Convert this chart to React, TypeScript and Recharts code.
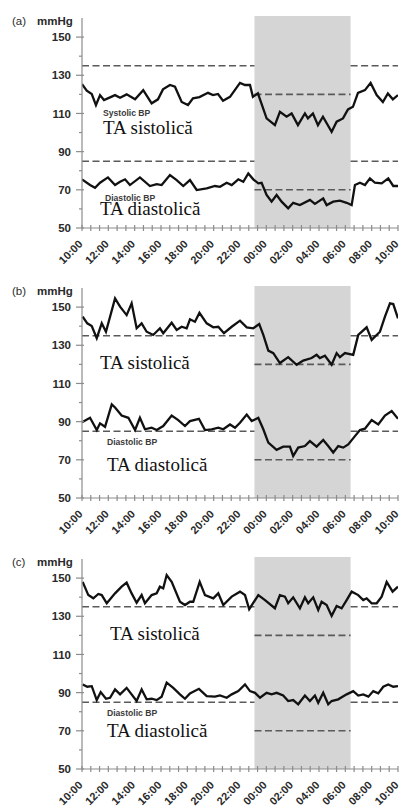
import React from 'react';
import { LineChart, Line, XAxis, YAxis, ReferenceArea, ReferenceLine } from 'recharts';

// time axis: hours elapsed since 10:00
const hourLabels = ['10:00', '12:00', '14:00', '16:00', '18:00', '20:00', '22:00', '00:00', '02:00', '04:00', '06:00', '08:00', '10:00'];
const majorHours = [0, 2, 4, 6, 8, 10, 12, 14, 16, 18, 20, 22, 24];
const yMajor = [50, 70, 90, 110, 130, 150];
const yTicks = [50, 60, 70, 80, 90, 100, 110, 120, 130, 140, 150, 160];
const nightStart = 13.1;
const nightEnd = 20.4;
const daySysLimit = 135;
const dayDiaLimit = 85;
const nightSysLimit = 120;
const nightDiaLimit = 70;

const aSys: [number, number][] = [
  [0, 125.4], [0.36, 121.9], [0.74, 120.2], [1.06, 114.4], [1.37, 119.6], [1.67, 117], [2.13, 118.4], [2.51, 119.6],
  [2.89, 118.2], [3.39, 120], [4.03, 117.4], [4.65, 122.2], [5.29, 115.3], [5.77, 117.4], [6.15, 122.6], [6.68, 124.9],
  [7.06, 124], [7.57, 116], [8.05, 114.4], [8.43, 117.9], [8.92, 118.6], [9.57, 120.8], [9.95, 119.6], [10.33, 120.2],
  [10.71, 116.7], [11.24, 118.7], [12.0, 126], [12.38, 124.9], [12.76, 124.9], [12.98, 118.7], [13.36, 120.5],
  [14.02, 107.4], [14.65, 103.9], [15.03, 110.9], [15.54, 108.3], [15.92, 110], [16.4, 103.9], [16.93, 110],
  [17.16, 107.4], [17.54, 110], [17.92, 103.9], [18.3, 108.3], [18.96, 100.4], [19.34, 105.7], [19.82, 107.4],
  [20.2, 112.1], [20.58, 113.5], [20.96, 120.8], [21.49, 122.2], [21.92, 126], [22.38, 119.6], [22.85, 116],
  [23.23, 120.5], [23.61, 117.4], [24, 119.6],
];
const aDia: [number, number][] = [
  [0, 75.5], [0.61, 72.5], [0.99, 71.1], [1.37, 73.7], [1.97, 76.5], [2.51, 72.5], [2.89, 74.2], [3.27, 75.5],
  [3.64, 72.5], [4.4, 76.5], [5.16, 72], [5.67, 73], [6.05, 72.5], [6.68, 77.7], [7.19, 75.1], [7.69, 72],
  [8.2, 75.1], [8.71, 69.9], [9.47, 70.8], [10.1, 72], [10.48, 71.6], [10.99, 73.7], [11.37, 72.5], [11.87, 75.5],
  [12.25, 74.2], [12.63, 78.6], [13.01, 75.5], [13.39, 73.4], [13.64, 73.7], [14.02, 67.3], [14.4, 63.8],
  [14.78, 67.3], [15.16, 63.8], [15.66, 60.3], [16.04, 63.2], [16.55, 62], [17.31, 64.7], [17.69, 62.6],
  [18.32, 65.5], [18.58, 62], [19.08, 63.8], [19.59, 64.3], [20.1, 63.2], [20.48, 62], [20.73, 72.5], [21.11, 73.7],
  [21.49, 72.5], [21.87, 76], [22.25, 73.7], [22.76, 73.4], [23.26, 76], [23.64, 72], [24, 72],
];
const bSys: [number, number][] = [
  [0.05, 145], [0.4, 141.5], [0.74, 140.1], [1.12, 133.7], [1.5, 141.5], [1.82, 137.1], [2.51, 154.5], [2.89, 150.2],
  [3.39, 145.8], [3.77, 152], [4.15, 138.9], [4.53, 141.5], [4.91, 137.1], [5.41, 135.4], [5.92, 138.9], [6.17, 136.3],
  [6.81, 141.8], [7.19, 138], [7.57, 139.7], [7.95, 138.9], [8.2, 143.6], [8.58, 142.3], [8.92, 147], [9.47, 141.5],
  [9.97, 139.4], [10.35, 139.7], [10.78, 136.3], [11.37, 139.7], [12, 142.9], [12.51, 139.4], [13.01, 138.9],
  [13.46, 141.1], [13.77, 135.4], [14.15, 127.2], [14.53, 125.9], [15.03, 120.7], [15.66, 123.8], [16.3, 119.8],
  [16.8, 122], [17.44, 123.3], [17.82, 125], [18.07, 123.3], [18.45, 124.5], [18.96, 119.8], [19.34, 125.9],
  [19.59, 123.8], [19.97, 125.9], [20.6, 125], [20.98, 135.4], [21.62, 139.4], [22, 132.8], [22.63, 137.1],
  [23.01, 145], [23.39, 152], [23.64, 151.6], [24, 144.1],
];
const bDia: [number, number][] = [
  [0, 89.7], [0.61, 92], [1.12, 85.6], [1.37, 89.1], [1.75, 87.3], [2.26, 99], [2.51, 97.4], [3.01, 93.2],
  [3.52, 92], [4.03, 85.6], [4.4, 92], [4.78, 86], [5.29, 86.8], [5.67, 85.6], [6.17, 87.7], [6.81, 93.2],
  [7.31, 90.8], [7.82, 87.7], [8.2, 90.3], [8.88, 91.5], [9.34, 85.6], [9.85, 86], [10.35, 86.8], [10.73, 86],
  [11.24, 88.5], [11.62, 86.8], [12, 89.4], [12.51, 93.7], [12.89, 90.3], [13.39, 92], [13.77, 86], [14.15, 79],
  [14.78, 75.2], [15.28, 76.9], [15.79, 76.9], [16.04, 72], [16.42, 76.4], [16.93, 77.2], [17.31, 79.8],
  [17.82, 76.9], [18.32, 80.4], [18.7, 77.2], [19.08, 73.8], [19.46, 77.2], [19.84, 76.4], [20.22, 78.1],
  [20.73, 82.4], [21.11, 85.6], [21.49, 86.3], [22, 90.8], [22.5, 88.5], [23.01, 93.2], [23.52, 95.5], [24, 91.5],
];
const cSys: [number, number][] = [
  [0.05, 148], [0.48, 141.1], [0.86, 139.4], [1.24, 141.7], [1.5, 141.1], [1.88, 136.8], [2.51, 142], [3.01, 145.5],
  [3.39, 147.6], [3.77, 142], [4.15, 137.1], [4.53, 141.1], [4.78, 136.8], [5.29, 141.1], [5.67, 142], [5.92, 145.5],
  [6.17, 144.6], [6.43, 151.6], [6.81, 148], [7.44, 137.6], [7.82, 135.9], [8.2, 137.6], [8.45, 137.6], [8.94, 148],
  [9.34, 141.1], [9.97, 139.4], [10.35, 142], [10.73, 135.9], [11.37, 140.3], [12, 142.9], [12.38, 141.1],
  [12.7, 133.7], [13.39, 141.1], [13.9, 138.5], [14.65, 134.2], [15.03, 141.1], [15.41, 140.3], [15.66, 136.8],
  [16.04, 139.9], [16.55, 134.2], [16.93, 139.9], [17.18, 136.8], [17.56, 139.9], [17.94, 133.3], [18.2, 137.6],
  [18.58, 135.9], [18.96, 130.2], [19.34, 135.4], [19.72, 134.2], [20.1, 138.5], [20.48, 142.9], [20.98, 141.1],
  [21.36, 138.5], [21.62, 139.4], [22, 136.8], [22.38, 136.8], [22.76, 140.3], [23.14, 148], [23.59, 142.9],
  [24, 145.5],
];
const cDia: [number, number][] = [
  [0.05, 94.3], [0.4, 93.1], [0.74, 93.4], [1.12, 86.1], [1.42, 90.3], [1.82, 86.8], [2.13, 87.3], [2.51, 91.7],
  [2.89, 89.1], [3.39, 92.5], [4.15, 85.6], [4.53, 91.7], [4.91, 86.5], [5.29, 86.8], [5.67, 86.1], [6.05, 87.9],
  [6.43, 95.2], [6.93, 92.5], [7.44, 89.1], [7.82, 86.8], [8.2, 89.6], [8.88, 92], [9.47, 88.2], [10.1, 87.9],
  [10.48, 88.5], [10.99, 87.3], [11.37, 89.1], [11.87, 90.8], [12.38, 94.3], [12.76, 90.8], [13.14, 89.9],
  [13.52, 87.3], [14.02, 89.9], [14.4, 89.1], [14.78, 89.9], [15.28, 88.5], [15.66, 85.6], [16.04, 86.1],
  [16.42, 83.9], [16.93, 88.5], [17.31, 85.6], [17.69, 88.5], [17.94, 84.7], [18.32, 89.9], [18.7, 83.9],
  [18.96, 85.6], [19.46, 86.5], [20.1, 89.1], [20.6, 90.8], [20.98, 88.5], [21.36, 89.1], [21.75, 87.9],
  [22.12, 90.8], [22.5, 89.6], [22.88, 93.1], [23.26, 94.3], [23.64, 93.1], [24, 93.4],
];

const xMinorTicks: number[] = [];
for (let i = 0; i <= 36; i++) xMinorTicks.push(+(i * 24 / 36).toFixed(4));

const toRows = (arr: [number, number][]) => arr.map(([t, v]) => ({ t, v }));

const SANS = '"Liberation Sans", Arial, sans-serif';
const SERIF = '"Liberation Serif", "Times New Roman", serif';
const AXIS = '#8c8c8c';
const DASH = '#5a5a5a';

const YTick = (props: any) => {
  const { x, y, payload } = props;
  const v = payload.value;
  const major = yMajor.includes(v);
  if (v === 160) return <g />;
  return (
    <g>
      <line x1={major ? x - 6 : x - 3} x2={major ? x + 2 : x} y1={y} y2={y} stroke={AXIS} strokeWidth={1.2} />
      {major && (
        <text x={x - 11} y={y} dy="0.36em" textAnchor="end" fontFamily={SANS} fontWeight="bold" fontSize={11.5} fill="#2a2a2a">
          {v}
        </text>
      )}
    </g>
  );
};

const XTick = (props: any) => {
  const { x, y, payload } = props;
  const v = payload.value;
  const idx = majorHours.findIndex((h) => Math.abs(h - v) < 1e-6);
  return (
    <g>
      <line x1={x} x2={x} y1={y - 3} y2={y + 3} stroke={AXIS} strokeWidth={1.2} />
      {idx >= 0 && (
        <text
          transform={`translate(${x - 1.5},${y + 14}) rotate(-45)`}
          textAnchor="end"
          dy="0.35em"
          fontFamily={SANS}
          fontWeight="bold"
          fontSize={11}
          fill="#2a2a2a"
        >
          {hourLabels[idx]}
        </text>
      )}
    </g>
  );
};

type PanelProps = {
  sys: [number, number][];
  dia: [number, number][];
};

const Panel = ({ sys, dia }: PanelProps) => (
  <LineChart width={399} height={265} margin={{ top: 18, right: 1, left: 0, bottom: 0 }}>
    <XAxis
      dataKey="t"
      type="number"
      domain={[0, 24]}
      ticks={xMinorTicks}
      interval={0}
      tick={<XTick />}
      tickLine={false}
      tickSize={0}
      tickMargin={0}
      height={37}
      axisLine={{ stroke: AXIS, strokeWidth: 1.2 }}
      allowDataOverflow
    />
    <YAxis
      type="number"
      domain={[50, 160]}
      ticks={yTicks}
      interval={0}
      tick={<YTick />}
      tickLine={false}
      tickSize={0}
      tickMargin={0}
      width={82}
      axisLine={{ stroke: AXIS, strokeWidth: 1.2 }}
      allowDataOverflow
    />
    <ReferenceArea x1={nightStart} x2={nightEnd} y1={50} y2={161} fill="#d5d5d5" fillOpacity={1} stroke="none" ifOverflow="visible" />
    <ReferenceLine segment={[{ x: 0, y: daySysLimit }, { x: nightStart, y: daySysLimit }]} stroke={DASH} strokeWidth={1.6} strokeDasharray="7 3.5" />
    <ReferenceLine segment={[{ x: nightEnd, y: daySysLimit }, { x: 24, y: daySysLimit }]} stroke={DASH} strokeWidth={1.6} strokeDasharray="7 3.5" />
    <ReferenceLine segment={[{ x: 0, y: dayDiaLimit }, { x: nightStart, y: dayDiaLimit }]} stroke={DASH} strokeWidth={1.6} strokeDasharray="7 3.5" />
    <ReferenceLine segment={[{ x: nightEnd, y: dayDiaLimit }, { x: 24, y: dayDiaLimit }]} stroke={DASH} strokeWidth={1.6} strokeDasharray="7 3.5" />
    <ReferenceLine segment={[{ x: nightStart, y: nightSysLimit }, { x: nightEnd, y: nightSysLimit }]} stroke={DASH} strokeWidth={1.6} strokeDasharray="7 3.5" />
    <ReferenceLine segment={[{ x: nightStart, y: nightDiaLimit }, { x: nightEnd, y: nightDiaLimit }]} stroke={DASH} strokeWidth={1.6} strokeDasharray="7 3.5" />
    <Line data={toRows(sys)} dataKey="v" type="linear" dot={false} stroke="#111" strokeWidth={2.3} isAnimationActive={false} />
    <Line data={toRows(dia)} dataKey="v" type="linear" dot={false} stroke="#111" strokeWidth={2.3} isAnimationActive={false} />
  </LineChart>
);

const small = { fontFamily: SANS, fontWeight: 'bold' as const, fontSize: 8.6, fill: '#3a3a3a' };
const big = { fontFamily: SERIF, fontSize: 19, fill: '#111' };
const head = { fontFamily: SANS, fontSize: 11.5, fill: '#2a2a2a' };

export default function App() {
  return (
    <div style={{ position: 'absolute', left: 0, top: 0, width: 399, height: 806, background: '#fff', overflow: 'hidden' }}>
      <div style={{ position: 'absolute', left: 0, top: 0 }}>
        <Panel sys={aSys} dia={aDia} />
      </div>
      <div style={{ position: 'absolute', left: 0, top: 270 }}>
        <Panel sys={bSys} dia={bDia} />
      </div>
      <div style={{ position: 'absolute', left: 0, top: 541 }}>
        <Panel sys={cSys} dia={cDia} />
      </div>
      <svg width={399} height={806} style={{ position: 'absolute', left: 0, top: 0, pointerEvents: 'none' }}>
        <text x={12} y={25} {...head}>(a)</text>
        <text x={37} y={25} {...head} fontWeight="bold">mmHg</text>
        <text x={103} y={116} {...small}>Systolic BP</text>
        <text x={103} y={134} {...big}>TA sistolică</text>
        <text x={105} y={201} {...small}>Diastolic BP</text>
        <text x={100} y={215} {...big}>TA diastolică</text>

        <text x={12} y={295} {...head}>(b)</text>
        <text x={37} y={295} {...head} fontWeight="bold">mmHg</text>
        <text x={100} y={369} {...big}>TA sistolică</text>
        <text x={107} y={445} {...small}>Diastolic BP</text>
        <text x={107} y={471} {...big}>TA diastolică</text>

        <text x={12} y={566} {...head}>(c)</text>
        <text x={37} y={566} {...head} fontWeight="bold">mmHg</text>
        <text x={110} y={640} {...big}>TA sistolică</text>
        <text x={107} y={716} {...small}>Diastolic BP</text>
        <text x={107} y={737} {...big}>TA diastolică</text>
      </svg>
    </div>
  );
}
